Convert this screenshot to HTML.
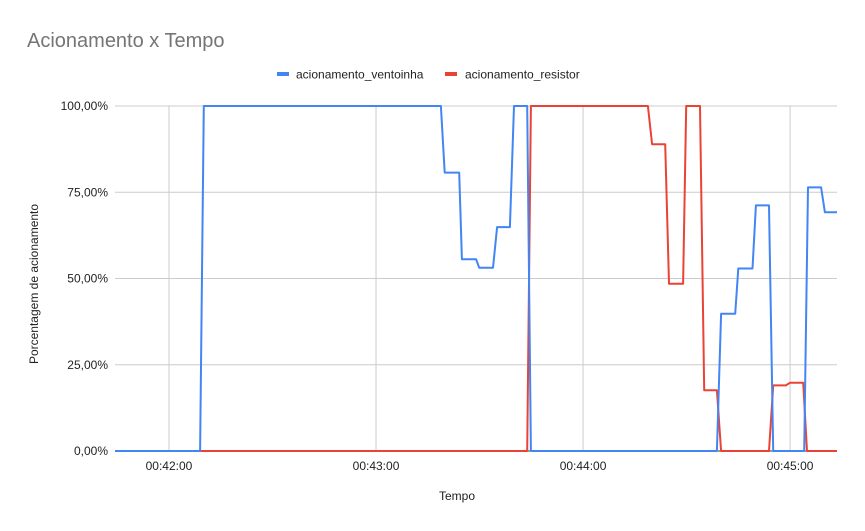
<!DOCTYPE html>
<html><head><meta charset="utf-8"><style>
body{margin:0;background:#fff}
svg{display:block;font-family:"Liberation Sans",Arial,sans-serif}
</style></head><body>
<svg id="chart" width="865" height="531">
<rect width="865" height="531" fill="#fff"/>
<text x="27" y="47" font-size="20" fill="#757575">Acionamento x Tempo</text>
<g>
<rect x="277" y="72" width="12" height="4" fill="#4285f4"/>
<text x="296" y="78.5" font-size="12" fill="#222">acionamento_ventoinha</text>
<rect x="445" y="72" width="12" height="4" fill="#ea4335"/>
<text x="465" y="78.5" font-size="12" fill="#222">acionamento_resistor</text>
</g>
<g id="grid"></g>
<g id="series"></g>
<text x="457" y="500" font-size="12" fill="#222" text-anchor="middle">Tempo</text>
<text transform="translate(38,284) rotate(-90)" font-size="12" fill="#222" text-anchor="middle">Porcentagem de acionamento</text>
</svg>
<script>
const yTicks=[0,25,50,75,100];
const yTickLabels=["0,00%","25,00%","50,00%","75,00%","100,00%"];
const xTicks=[0,60,120,180];
const xTickLabels=["00:42:00","00:43:00","00:44:00","00:45:00"];
// time in seconds after 00:42:00
const ventT=[-15.65,9.0,10.1,78.8,79.9,84.1,84.9,89.0,89.9,93.9,95.1,98.8,100,103.8,104.9,158.8,160,164.1,165,169.1,170.1,173.9,175.1,184.1,185.2,189,190.1,193.6];
const ventV=[0,0,100,100,80.7,80.7,55.6,55.6,53.1,53.1,64.9,64.9,100,100,0,0,39.8,39.8,52.9,52.9,71.2,71.2,0,0,76.4,76.4,69.2,69.2];
const resT=[-15.65,103.8,104.9,138.8,140,143.8,144.9,149,149.9,153.9,155.1,158.8,160,173.9,175.1,178.8,180,183.8,184.9,193.6];
const resV=[0,0,100,100,88.9,88.9,48.5,48.5,100,100,17.6,17.6,0,0,19.0,19.0,19.8,19.8,0,0];
const X0=115,X1=837,Y0=451,Y1=106,TMIN=-15.65,TMAX=193.6;
const sx=t=>X0+(t-TMIN)/(TMAX-TMIN)*(X1-X0);
const sy=v=>Y0-(v/100)*(Y0-Y1);
const NS="http://www.w3.org/2000/svg";
const grid=document.getElementById('grid'),ser=document.getElementById('series');
function mk(tag,attrs,parent){const e=document.createElementNS(NS,tag);for(const k in attrs)e.setAttribute(k,attrs[k]);parent.appendChild(e);return e;}
yTicks.forEach((v,i)=>{
 const l=mk('line',{x1:X0,x2:X1,y1:sy(v),y2:sy(v),stroke:v===0?'#333':'#ccc','stroke-width':1},grid);
 
 
 const t=mk('text',{x:108,y:sy(v)+4,'font-size':12,fill:'#222','text-anchor':'end'},grid);
 t.textContent=yTickLabels[i];
 
 
});
xTicks.forEach((s,i)=>{
 const l=mk('line',{x1:sx(s),x2:sx(s),y1:Y1,y2:Y0,stroke:'#ccc','stroke-width':1},grid);
 
 
 const t=mk('text',{x:sx(s),y:470,'font-size':12,fill:'#222','text-anchor':'middle'},grid);
 t.textContent=xTickLabels[i];
 
 
});
function drawLine(T,V,color,name){
 const d=T.map((t,i)=>(i?'L':'M')+sx(t).toFixed(1)+','+sy(V[i]).toFixed(1)).join(' ');
 const p=mk('path',{d:d,fill:'none',stroke:color,'stroke-width':2,'stroke-linejoin':'round'},ser);
 
 
}
drawLine(resT,resV,'#ea4335','series-resistor-line');
drawLine(ventT,ventV,'#4285f4','series-ventoinha-line');
</script>
</body></html>
